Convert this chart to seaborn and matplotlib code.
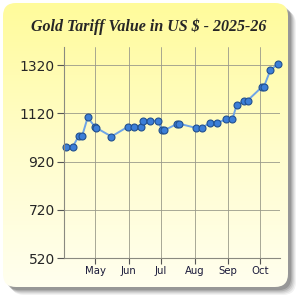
import numpy as np
import pandas as pd
import matplotlib
matplotlib.use("Agg")
import matplotlib.pyplot as plt
import matplotlib.dates as mdates
from matplotlib.patches import FancyBboxPatch
from matplotlib.colors import LinearSegmentedColormap
import seaborn as sns

# Datos
fechas = ["2025-04-04", "2025-04-10", "2025-04-16", "2025-04-19", "2025-04-24",
          "2025-05-01", "2025-05-02", "2025-05-16", "2025-05-31", "2025-06-06",
          "2025-06-12", "2025-06-14", "2025-06-21", "2025-06-28", "2025-07-02",
          "2025-07-04", "2025-07-16", "2025-07-18", "2025-08-02", "2025-08-08",
          "2025-08-15", "2025-08-22", "2025-08-30", "2025-09-05", "2025-09-09",
          "2025-09-16", "2025-09-19", "2025-10-02", "2025-10-04", "2025-10-10",
          "2025-10-17"]
valores = [980, 980, 1028, 1028, 1103,
           1063, 1060, 1024, 1064, 1064,
           1064, 1089, 1089, 1089, 1050,
           1050, 1077, 1077, 1060, 1060,
           1081, 1081, 1095, 1095, 1156,
           1173, 1173, 1228, 1228, 1298,
           1325]
y_ticks = [520, 720, 920, 1120, 1320]
titulo = "Gold Tariff Value in US $ - 2025-26"

df = pd.DataFrame({"fecha": pd.to_datetime(fechas), "valor": valores})

sns.set_style("white")
fig = plt.figure(figsize=(3, 3), dpi=100)
fig.patch.set_facecolor("white")

# Fondo: tarjeta redondeada con degradado y sombra
bg = fig.add_axes([0, 0, 1, 1])
bg.axis("off")
for i, a in enumerate([0.05, 0.07, 0.09, 0.12, 0.15]):
    off = 8 - i * 1.2
    sh = FancyBboxPatch((3 + off, 3 + off), 285, 284,
                        boxstyle="round,pad=0,rounding_size=13",
                        facecolor="black", edgecolor="none", alpha=a)
    bg.add_patch(sh)
card = FancyBboxPatch((3, 3), 285, 284, boxstyle="round,pad=0,rounding_size=13",
                      facecolor="none", edgecolor="none")
bg.add_patch(card)
cmap = LinearSegmentedColormap.from_list("amarillo", ["#fffb9a", "#fffdcc", "#fffff2"])
grad = np.linspace(0, 1, 256).reshape(-1, 1)
im = bg.imshow(grad, cmap=cmap, extent=[0, 300, 300, 0], aspect="auto", zorder=2)
im.set_clip_path(card)
bg.set_xlim(0, 300)
bg.set_ylim(300, 0)

fig.text(0.495, 0.912, titulo, ha="center", va="center", fontsize=11.5,
         fontweight="bold", fontstyle="italic", family="Liberation Serif")

# Gráfico principal
ax = fig.add_axes([0.213, 0.14, 0.72, 0.703])
ax.patch.set_alpha(0)
sns.lineplot(data=df, x="fecha", y="valor", ax=ax, color="#6fa5e6", linewidth=1.4,
             marker="o", markersize=5, markerfacecolor="#3c7fd8",
             markeredgecolor="#22508f", markeredgewidth=0.8, clip_on=False)

ax.set_xlim(pd.Timestamp("2025-04-02"), pd.Timestamp("2025-10-19"))
ax.set_ylim(520, 1395)
ax.set_yticks(y_ticks)
ax.xaxis.set_major_locator(mdates.MonthLocator(bymonth=[5, 6, 7, 8, 9, 10]))
ax.xaxis.set_major_formatter(mdates.DateFormatter("%b"))
ax.grid(True, color="#9a9a8a", linewidth=0.6)
ax.set_xlabel("")
ax.set_ylabel("")
for s in ["top", "right"]:
    ax.spines[s].set_visible(False)
for s in ["left", "bottom"]:
    ax.spines[s].set_color("#8a8a80")
    ax.spines[s].set_linewidth(0.8)
ax.tick_params(axis="y", labelsize=10, length=5, color="#555555", direction="out", left=True, pad=1.5)
ax.tick_params(axis="x", labelsize=7.3, length=4, color="#555555", direction="out", bottom=True,
               pad=2, labelcolor="#1a1a3a")

fig.savefig("out.png", dpi=100)
